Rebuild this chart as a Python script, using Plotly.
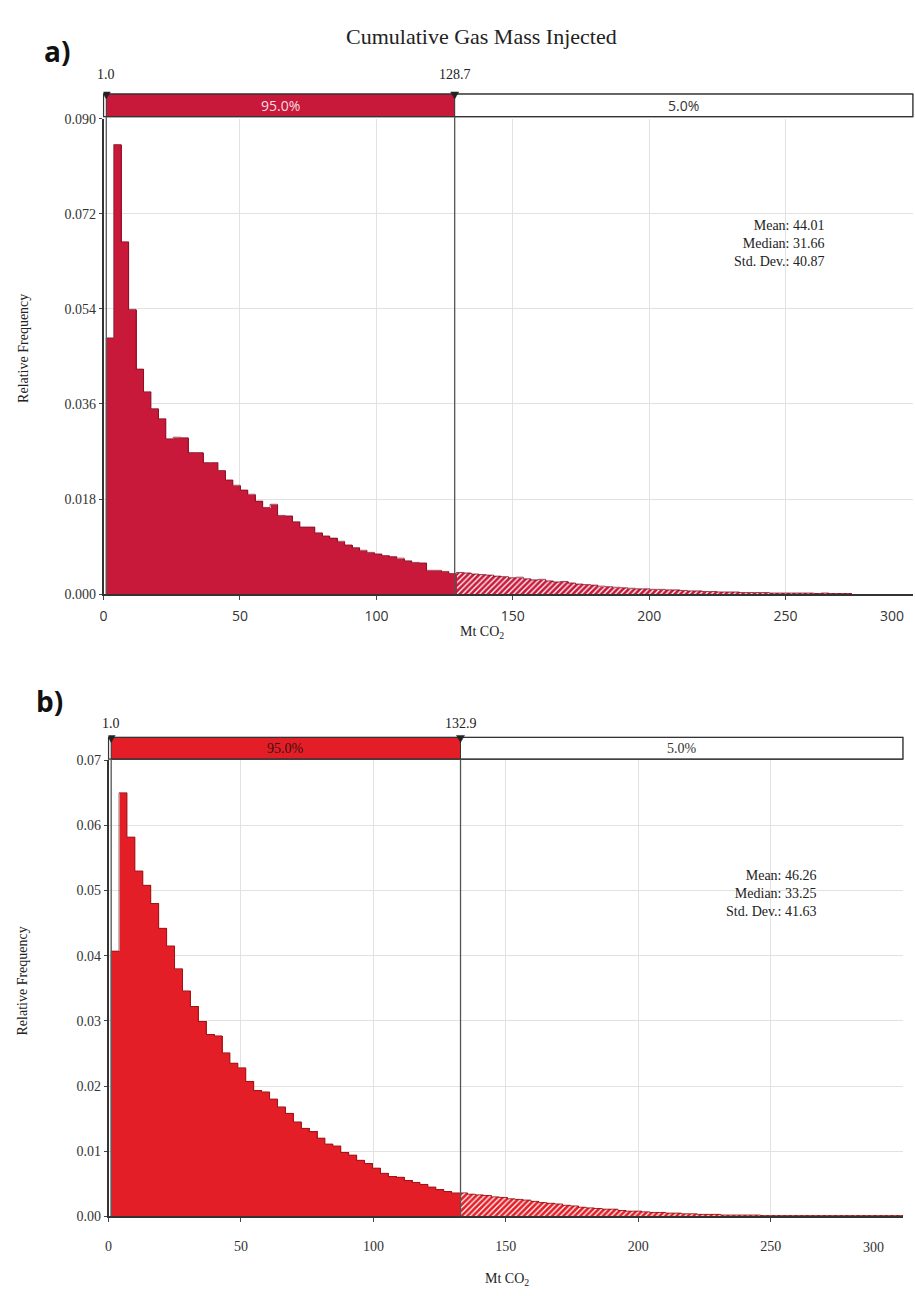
import numpy as np
import plotly.graph_objects as go

# ---------------- data ----------------
# Panel a) : 100 bins from 1.0, width 2.73
A_BIN_START = 1.0
A_BIN_WIDTH = 2.73
A_FREQ = [
    0.0485, 0.0851, 0.0667, 0.0539, 0.0426, 0.0383, 0.0351, 0.0332, 0.0294, 0.0297,
    0.0296, 0.0268, 0.0268, 0.0249, 0.0249, 0.0234, 0.0216, 0.0206, 0.0197, 0.0189,
    0.0176, 0.0164, 0.0170, 0.0149, 0.0148, 0.0137, 0.0127, 0.0127, 0.0116, 0.0110,
    0.0106, 0.0100, 0.0093, 0.0088, 0.0083, 0.0079, 0.0076, 0.0073, 0.0071, 0.0068,
    0.0063, 0.0060, 0.0059, 0.0045, 0.0045, 0.0043, 0.0039, 0.0041, 0.0040, 0.0038,
    0.0037, 0.0036, 0.0034, 0.0033, 0.0031, 0.0032, 0.0029, 0.0027, 0.0028, 0.0025,
    0.0023, 0.0024, 0.0021, 0.0019, 0.0018, 0.0017, 0.0015, 0.0014, 0.0013, 0.0012,
    0.0011, 0.0010, 0.0010, 0.0009, 0.0009, 0.0008, 0.0008, 0.0007, 0.0006, 0.0006,
    0.0005, 0.0005, 0.0004, 0.0004, 0.0004, 0.0003, 0.0003, 0.0003, 0.0003, 0.0002,
    0.0002, 0.0002, 0.0002, 0.0002, 0.0002, 0.0001, 0.0002, 0.0001, 0.0001, 0.0001,
]
A_P_LOW, A_P_HIGH = 1.0, 128.7
A_STATS = ["Mean: 44.01", "Median: 31.66", "Std. Dev.: 40.87"]

# Panel b) : 100 bins from 1.0, width 2.99
B_BIN_START = 1.0
B_BIN_WIDTH = 2.99
B_FREQ = [
    0.0407, 0.0650, 0.0582, 0.0530, 0.0508, 0.0480, 0.0442, 0.0415, 0.0380, 0.0346,
    0.0322, 0.0299, 0.0279, 0.0277, 0.0251, 0.0235, 0.0228, 0.0207, 0.0193, 0.0191,
    0.0180, 0.0168, 0.0158, 0.0145, 0.0135, 0.0130, 0.0120, 0.0111, 0.0108, 0.0098,
    0.0094, 0.0086, 0.0081, 0.0074, 0.0066, 0.0061, 0.0060, 0.0055, 0.0052, 0.0049,
    0.0045, 0.0041, 0.0038, 0.0036, 0.0036, 0.0034, 0.0033, 0.0032, 0.0030, 0.0029,
    0.0027, 0.0026, 0.0025, 0.0023, 0.0021, 0.0020, 0.0019, 0.0017, 0.0016, 0.0014,
    0.0013, 0.0012, 0.0011, 0.0011, 0.0009, 0.0008, 0.0008, 0.0007, 0.0006, 0.0006,
    0.0005, 0.0005, 0.0004, 0.0004, 0.0003, 0.0003, 0.0003, 0.0002, 0.0002, 0.0002,
    0.0002, 0.0002, 0.0001, 0.0001, 0.0001, 0.0001, 0.0001, 0.0001, 0.0001, 0.0001,
    0.0001, 0.0001, 0.0001, 0.0001, 0.0001, 0.0001, 0.0001, 0.0001, 0.0001, 0.0001,
]
B_P_LOW, B_P_HIGH = 1.0, 132.9
B_STATS = ["Mean: 46.26", "Median: 33.25", "Std. Dev.: 41.63"]

X_TICKS = [0, 50, 100, 150, 200, 250]
A_Y_TICKS = [0.000, 0.018, 0.036, 0.054, 0.072, 0.090]
B_Y_TICKS = [0.00, 0.01, 0.02, 0.03, 0.04, 0.05, 0.06, 0.07]

W, H = 915, 1296
SERIF = "Liberation Serif, Times New Roman, serif"
SANS = "Open Sans, DejaVu Sans, sans-serif"


def px_x(p):
    return p / W


def px_y(p):
    return 1 - p / H


fig = go.Figure()
shapes = []
annotations = []


def add_panel(idx, start, width, freq, p_lo, p_hi, stats, color, edge, box_text_color,
              xdom_px, ydom_px, xrange, yticks, yfmt, ydtick_max, box_px, lbl_y_px,
              ylabel_y_px, xlabel_y_px, xlabel_x_px, stats_px, label300_px, xtick_font,
              standoff):
    xa = "x" if idx == 1 else "x2"
    ya = "y" if idx == 1 else "y2"
    n = len(freq)
    lowers = start + width * np.arange(n)
    centers = lowers + width / 2
    f = np.array(freq)
    inside = centers < p_hi
    fig.add_trace(go.Bar(x=centers[inside], y=f[inside], width=width,
                         marker=dict(color=color, line=dict(width=0)),
                         xaxis=xa, yaxis=ya, showlegend=False, hoverinfo="skip"))
    fig.add_trace(go.Bar(x=centers[~inside], y=f[~inside], width=width,
                         marker=dict(color="white", line=dict(width=0),
                                     pattern=dict(shape="/", fgcolor=color, bgcolor="white",
                                                  size=4, solidity=0.68, fillmode="replace")),
                         xaxis=xa, yaxis=ya, showlegend=False, hoverinfo="skip"))
    # step outline
    ex = np.concatenate([[lowers[0]], lowers, [lowers[-1] + width], [lowers[-1] + width]])
    ey = np.concatenate([[0], f, [f[-1]], [0]])
    fig.add_trace(go.Scatter(x=ex, y=ey, mode="lines", line=dict(shape="hv", color=edge, width=0.8),
                             xaxis=xa, yaxis=ya, showlegend=False, hoverinfo="skip"))

    xk = "xaxis" if idx == 1 else "xaxis2"
    yk = "yaxis" if idx == 1 else "yaxis2"
    fig.update_layout(**{
        xk: dict(domain=[px_x(xdom_px[0]), px_x(xdom_px[1])], range=xrange, anchor=ya,
                 tickvals=X_TICKS, ticks="outside", ticklen=4, tickcolor="#444",
                 ticklabelstandoff=standoff,
                 tickfont=dict(family=xtick_font, size=14, color="#333"),
                 showgrid=True, gridcolor="#e2e2e2", gridwidth=1,
                 showline=True, linecolor="#333", linewidth=1.5, zeroline=False,
                 fixedrange=True),
        yk: dict(domain=[px_y(ydom_px[1]), px_y(ydom_px[0])], range=[0, ydtick_max], anchor=xa,
                 tickvals=yticks, tickformat=yfmt, ticks="outside", ticklen=3, tickcolor="#444",
                 tickfont=dict(family=SERIF, size=14, color="#333"),
                 showgrid=True, gridcolor="#e2e2e2", gridwidth=1,
                 showline=True, linecolor="#333", linewidth=1.5, zeroline=False,
                 fixedrange=True),
    })
    xr = "x" if idx == 1 else "x2"
    y_top_box, y_bot_box = px_y(box_px[0]), px_y(box_px[1])
    # percentile box
    shapes.append(dict(type="rect", xref=xr, yref="paper", x0=p_lo, x1=p_hi,
                       y0=y_bot_box, y1=y_top_box, fillcolor=color,
                       line=dict(color="#333", width=1)))
    shapes.append(dict(type="rect", xref=xr, yref="paper", x0=p_hi, x1=xrange[1],
                       y0=y_bot_box, y1=y_top_box, fillcolor="white",
                       line=dict(color="#333", width=1)))
    shapes.append(dict(type="rect", xref="paper", yref="paper", x0=px_x(xdom_px[0]), x1=px_x(xdom_px[1]),
                       y0=y_bot_box, y1=y_top_box, fillcolor="rgba(0,0,0,0)",
                       line=dict(color="#333", width=1.2)))
    # vertical percentile lines
    for pv in (p_lo, p_hi):
        shapes.append(dict(type="line", xref=xr, yref="paper", x0=pv, x1=pv,
                           y0=px_y(ydom_px[1]), y1=y_bot_box,
                           line=dict(color="#555", width=1.3)))
        shapes.append(dict(type="path", xref=xr, yref="paper", xsizemode="pixel", ysizemode="pixel",
                           xanchor=pv, yanchor=y_top_box, path="M -4,2 L 4,2 L 0,-5 Z",
                           fillcolor="#222", line=dict(color="#222", width=0.5)))
    # labels above box
    for pv in (p_lo, p_hi):
        annotations.append(dict(x=pv, y=px_y(lbl_y_px), xref=xr, yref="paper", text=f"{pv:.1f}",
                                showarrow=False, font=dict(family=SERIF, size=14, color="#222"),
                                xanchor="center", yanchor="middle"))
    mid_box = (box_px[0] + box_px[1]) / 2
    annotations.append(dict(x=(p_lo + p_hi) / 2, y=px_y(mid_box), xref=xr, yref="paper",
                            text="95.0%", showarrow=False,
                            font=dict(family=xtick_font if idx == 1 else SERIF, size=14, color=box_text_color),
                            xanchor="center", yanchor="middle"))
    annotations.append(dict(x=(p_hi + xrange[1]) / 2, y=px_y(mid_box), xref=xr, yref="paper",
                            text="5.0%", showarrow=False,
                            font=dict(family=xtick_font if idx == 1 else SERIF, size=14, color="#333"),
                            xanchor="center", yanchor="middle"))
    # axis titles
    annotations.append(dict(x=px_x(19), y=px_y(ylabel_y_px), xref="paper", yref="paper",
                            text="Relative Frequency", textangle=-90, showarrow=False,
                            font=dict(family=SERIF, size=14, color="#222"),
                            xanchor="center", yanchor="middle"))
    annotations.append(dict(x=px_x(xlabel_x_px), y=px_y(xlabel_y_px), xref="paper", yref="paper",
                            text="Mt CO<sub>2</sub>", showarrow=False,
                            font=dict(family=SERIF, size=14, color="#222"),
                            xanchor="center", yanchor="middle"))
    # stats
    annotations.append(dict(x=px_x(stats_px[0]), y=px_y(stats_px[1]), xref="paper", yref="paper",
                            text="<br>".join(stats), showarrow=False, align="right",
                            font=dict(family=SERIF, size=14, color="#222"),
                            xanchor="right", yanchor="top"))
    # "300" label at right end
    annotations.append(dict(x=px_x(label300_px[0]), y=px_y(label300_px[1]), xref="paper", yref="paper",
                            text="300", showarrow=False,
                            font=dict(family=xtick_font, size=14, color="#333"),
                            xanchor="center", yanchor="middle"))


add_panel(1, A_BIN_START, A_BIN_WIDTH, A_FREQ, A_P_LOW, A_P_HIGH, A_STATS,
          color="#c8193a", edge="#7a0f22", box_text_color="#f4dfe3",
          xdom_px=(100, 913), ydom_px=(113, 594), xrange=[0, 296.7],
          yticks=A_Y_TICKS, yfmt=".3f", ydtick_max=0.090, box_px=(88, 111), lbl_y_px=68,
          ylabel_y_px=345, xlabel_y_px=633, xlabel_x_px=480, stats_px=(826, 211),
          label300_px=(892, 616), xtick_font=SANS, standoff=4)

add_panel(2, B_BIN_START, B_BIN_WIDTH, B_FREQ, B_P_LOW, B_P_HIGH, B_STATS,
          color="#e31e26", edge="#8a1212", box_text_color="#3a1010",
          xdom_px=(105, 903), ydom_px=(762, 1223.5), xrange=[0, 300],
          yticks=B_Y_TICKS, yfmt=".2f", ydtick_max=0.07, box_px=(739, 761), lbl_y_px=725,
          ylabel_y_px=985, xlabel_y_px=1287, xlabel_x_px=505, stats_px=(818, 869),
          label300_px=(873, 1255), xtick_font=SERIF, standoff=12)

annotations.append(dict(x=px_x(480), y=px_y(30), xref="paper", yref="paper",
                        text="Cumulative Gas Mass Injected", showarrow=False,
                        font=dict(family=SERIF, size=22, color="#222"),
                        xanchor="center", yanchor="middle"))
annotations.append(dict(x=px_x(38), y=px_y(45), xref="paper", yref="paper",
                        text="<b>a)</b>", showarrow=False,
                        font=dict(family=SANS, size=28, color="#111"),
                        xanchor="left", yanchor="middle"))
annotations.append(dict(x=px_x(30), y=px_y(702), xref="paper", yref="paper",
                        text="<b>b)</b>", showarrow=False,
                        font=dict(family=SANS, size=28, color="#111"),
                        xanchor="left", yanchor="middle"))

fig.update_layout(width=W, height=H, margin=dict(l=0, r=0, t=0, b=0),
                  paper_bgcolor="white", plot_bgcolor="white", bargap=0,
                  barmode="overlay", shapes=shapes, annotations=annotations,
                  showlegend=False)

fig.write_html("out.html", config={"displayModeBar": False})
